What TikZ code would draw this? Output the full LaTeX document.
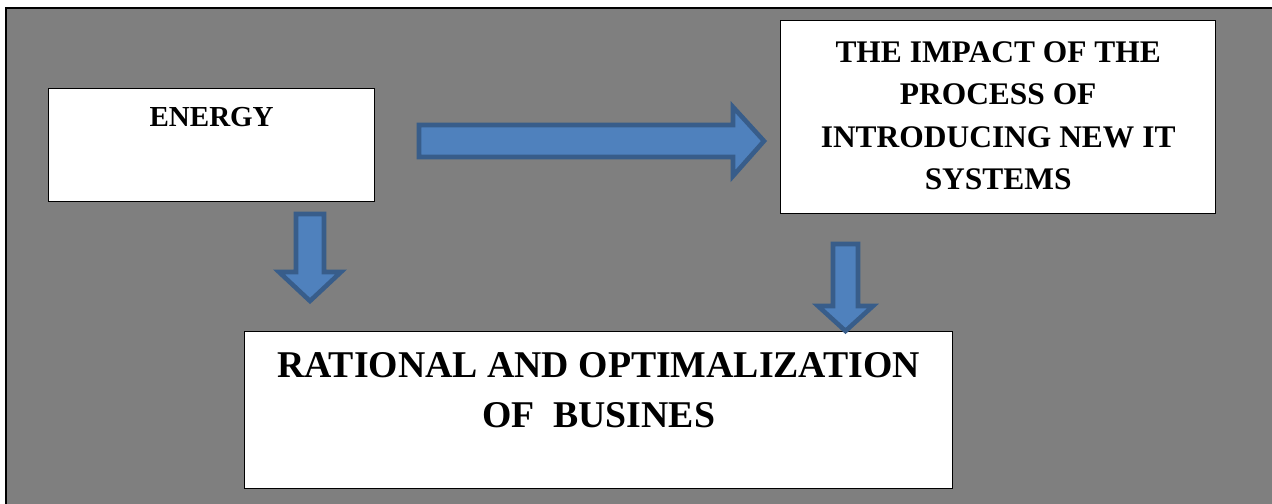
\documentclass[tikz,border=0pt]{standalone}
\usepackage{fontspec}
\setmainfont{Liberation Serif}
\usetikzlibrary{positioning}
\definecolor{panel}{RGB}{127,127,127}
\definecolor{flowfill}{RGB}{79,129,189}
\definecolor{flowline}{RGB}{56,93,138}

\begin{document}
\begin{tikzpicture}[x=0.02cm,y=-0.02cm,
  box/.style={draw=black,fill=white,line width=0.8pt,inner sep=0pt,anchor=north west},
  caption/.style={inner sep=0pt,align=center},
  flow/.style={fill=flowfill,draw=flowline,line width=2.6pt,line join=miter}]
  % page and grey panel (frame only on top and left)
  \useasboundingbox (0,0) rectangle (1272,504);
  \fill[white] (0,0) rectangle (1272,504);
  \fill[panel] (6,8) rectangle (1272,504);
  \draw[line width=1.3pt] (6,504) -- (6,8) -- (1272,8);
  % boxes
  \node[box,minimum width=6.52cm,minimum height=2.26cm] (energy) at (48,88) {};
  \node[box,minimum width=8.7cm,minimum height=3.86cm] (impact) at (780,20) {};
  \node[box,minimum width=14.16cm,minimum height=3.14cm] (business) at (244,331) {};
  % texts
  \node[caption,font=\bfseries\fontsize{16.5}{20}\selectfont,below=0.38cm of energy.north] (energytxt) {ENERGY};
  \node[caption,font=\bfseries\fontsize{17.9}{24}\selectfont,below=0.43cm of impact.north] (impacttxt)
    {THE IMPACT OF THE\\PROCESS OF\\INTRODUCING NEW IT\\SYSTEMS};
  \node[caption,font=\bfseries\fontsize{21.5}{28.4}\selectfont,below=0.42cm of business.north] (businesstxt)
    {RATIONAL AND OPTIMALIZATION\\OF~~BUSINES};
  % block arrows
  \draw[flow] (419,125) -- (733,125) -- (733,107) -- (764,141) -- (733,176) -- (733,157) -- (419,157) -- cycle;
  \draw[flow] (296,214) -- (324,214) -- (324,272) -- (341,272) -- (310,301) -- (279,272) -- (296,272) -- cycle;
  \draw[flow] (833,244) -- (858,244) -- (858,306) -- (873,306) -- (845.5,331) -- (818,306) -- (833,306) -- cycle;
\end{tikzpicture}
\end{document}
